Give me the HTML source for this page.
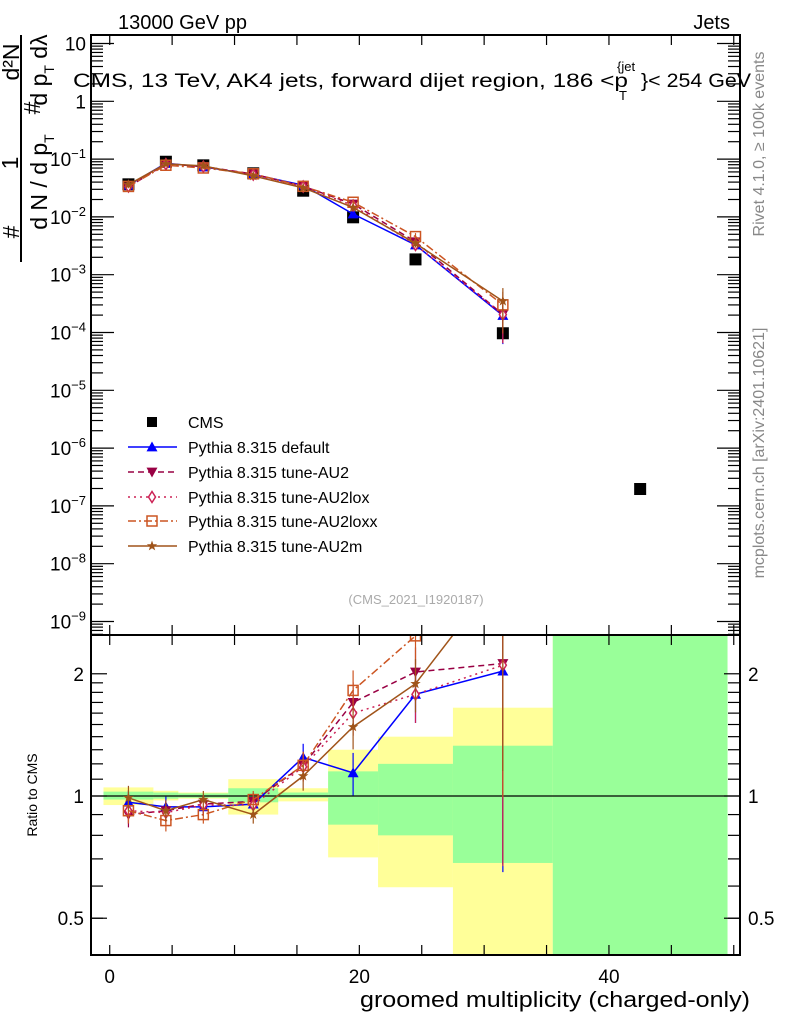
<!DOCTYPE html>
<html><head><meta charset="utf-8"><style>
html,body{margin:0;padding:0;background:#fff}
svg{display:block;font-family:"Liberation Sans",sans-serif}
</style></head><body>
<svg id="chart" width="786" height="1024" viewBox="0 0 786 1024" xmlns="http://www.w3.org/2000/svg">
<defs>
<clipPath id="clipMain"><rect x="91" y="35" width="649" height="600"/></clipPath>
<clipPath id="clipRatio"><rect x="91" y="635" width="649" height="320"/></clipPath>
</defs>
<text x="118" y="29" font-size="20">13000 GeV pp</text>
<text x="730" y="29" font-size="20" text-anchor="end">Jets</text>
<text x="73" y="87" font-size="19" textLength="555" lengthAdjust="spacingAndGlyphs">CMS, 13 TeV, AK4 jets, forward dijet region, 186 &lt;p</text>
<text x="617" y="71" font-size="13">{jet</text>
<text x="619" y="100" font-size="13">T</text>
<text x="641" y="87" font-size="19" textLength="110" lengthAdjust="spacingAndGlyphs">}&lt; 254 GeV</text>
<text transform="translate(764,144) rotate(-90)" font-size="16" fill="#888" text-anchor="middle">Rivet 4.1.0, ≥ 100k events</text>
<text transform="translate(764,453) rotate(-90)" font-size="16" fill="#888" text-anchor="middle">mcplots.cern.ch [arXiv:2401.10621]</text>
<text x="416" y="604" font-size="13" fill="#aaa" text-anchor="middle">(CMS_2021_I1920187)</text>
<g font-size="23">
<line x1="21" y1="35" x2="21" y2="262" stroke="#000" stroke-width="2"/>
<text transform="translate(19,62) rotate(-90)" text-anchor="middle">d²N</text>
<text transform="translate(18,163) rotate(-90)" text-anchor="middle">1</text>
<text transform="translate(19,232) rotate(-90)" text-anchor="middle">#</text>
<text transform="translate(47,70) rotate(-90)" text-anchor="middle">d p<tspan font-size="14" dy="7">T</tspan><tspan dy="-7">  dλ</tspan></text>
<text transform="translate(40,108) rotate(-90)" text-anchor="middle">#</text>
<text transform="translate(47,182) rotate(-90)" text-anchor="middle">d N / d p<tspan font-size="14" dy="7">T</tspan></text>
</g>
<text transform="translate(37,795) rotate(-90)" font-size="14" text-anchor="middle">Ratio to CMS</text>
<text x="750" y="1007" font-size="22" text-anchor="end" textLength="390" lengthAdjust="spacingAndGlyphs">groomed multiplicity (charged-only)</text>
<g id="bands" clip-path="url(#clipRatio)"></g>
<line x1="91" x2="740" y1="796" y2="796" stroke="#000" stroke-width="1.2"/>
<g id="mainMarks" clip-path="url(#clipMain)"></g>
<g id="ratioMarks" clip-path="url(#clipRatio)"></g>
<g id="axes"></g>
<rect x="91" y="35" width="649" height="600" fill="none" stroke="#000" stroke-width="2"/>
<rect x="91" y="635" width="649" height="320" fill="none" stroke="#000" stroke-width="2"/>
<g id="legend"></g>
</svg>
<script>
const binCenters = [1.5,4.5,7.5,11.5,15.5,19.5,24.5,31.5,42.5];
const binLo = [-0.5,3.5,5.5,9.5,13.5,17.5,21.5,27.5,35.5];
const binHi = [3.5,5.5,9.5,13.5,17.5,21.5,27.5,35.5,49.5];
const cmsValues = [0.0366,0.090,0.078,0.0568,0.0284,0.00984,0.00184,9.7e-5,1.96e-7];
const statUp = [1.025,1.02,1.015,1.045,1.02,1.15,1.20,1.33,3.0];
const statDn = [0.98,0.985,0.99,0.965,0.99,0.85,0.80,0.684,0.3];
const totUp = [1.05,1.03,1.02,1.10,1.045,1.30,1.40,1.65,3.0];
const totDn = [0.95,0.975,0.985,0.90,0.97,0.706,0.596,0.3,0.3];
const ratioDefault = [0.965,0.94,0.94,0.955,1.245,1.14,1.78,2.03];
const ratioAU2 = [0.90,0.92,0.955,0.97,1.19,1.70,2.02,2.12];
const ratioAU2lox = [0.92,0.91,0.95,0.95,1.18,1.60,1.78,2.10];
const ratioAU2loxx = [0.92,0.87,0.90,0.98,1.19,1.82,2.48,3.1];
const ratioAU2m = [0.99,0.92,0.98,0.90,1.12,1.48,1.89,3.6];
const relErr = [0.07,0.06,0.05,0.05,0.08,0.12,0.15,0.68];
const xTicks = [0,20,40];
const ratioTicks = [0.5,1,2];
const ratioTickLabels = ["0.5","1","2"];

const NS="http://www.w3.org/2000/svg";
function X(v){return 91+(v+1.5)*649/52;}
function Y(v){return 43.5-(Math.log10(v)-1)*57.8;}
function R(v){return 796-Math.log10(v)*406;}
function mk(tag,attrs,parent){const e=document.createElementNS(NS,tag);for(const k in attrs)e.setAttribute(k,attrs[k]);parent.appendChild(e);return e;}

const bands=document.getElementById('bands');
for(let i=0;i<binCenters.length;i++){
  const y=mk('rect',{x:X(binLo[i]),width:X(binHi[i])-X(binLo[i]),y:R(totUp[i]),height:R(totDn[i])-R(totUp[i]),fill:'#ffff99'},bands);
  
  
}
for(let i=0;i<binCenters.length;i++){
  const g=mk('rect',{x:X(binLo[i]),width:X(binHi[i])-X(binLo[i]),y:R(statUp[i]),height:R(statDn[i])-R(statUp[i]),fill:'#99ff99'},bands);
  
  
}

const ax=document.getElementById('axes');
const st={stroke:'#000','stroke-width':1.2};
for(let v=0;v<=50;v+=5){
  const x=X(v);
  [[35,45],[625,635],[635,645],[945,955]].forEach(p=>mk('line',Object.assign({x1:x,x2:x,y1:p[0],y2:p[1]},st),ax));
}
xTicks.forEach(v=>{const t=mk('text',{x:X(v),y:983,'font-size':19,'text-anchor':'middle'},ax);t.textContent=v;
  
  });
for(let d=-9;d<=1;d++){
  const y=Y(Math.pow(10,d));
  mk('line',Object.assign({x1:91,x2:114,y1:y,y2:y},st),ax);
  mk('line',Object.assign({x1:717,x2:740,y1:y,y2:y},st),ax);
  const t=mk('text',{x:86,y:y+7,'font-size':19,'text-anchor':'end'},ax);
  
  
  if(d===1)t.textContent='10';else if(d===0)t.textContent='1';
  else{t.textContent='10';const s=mk('tspan',{'font-size':13,dy:-8},t);s.textContent='−'+(-d);}
  for(let m=2;m<=9;m++){
    const yy=Y(m*Math.pow(10,d-1));
    if(yy<35||yy>635)continue;
    mk('line',Object.assign({x1:91,x2:103,y1:yy,y2:yy},st),ax);
    mk('line',Object.assign({x1:728,x2:740,y1:yy,y2:yy},st),ax);
  }
}
[0.5,0.6,0.7,0.8,0.9,1.1,1.2,1.3,1.4,1.5,1.6,1.7,1.8,1.9].forEach(v=>{const y=R(v);
  mk('line',Object.assign({x1:91,x2:103,y1:y,y2:y},st),ax);mk('line',Object.assign({x1:728,x2:740,y1:y,y2:y},st),ax);});
ratioTicks.forEach((v,i)=>{const y=R(v);
  mk('line',Object.assign({x1:91,x2:107,y1:y,y2:y},st),ax);mk('line',Object.assign({x1:724,x2:740,y1:y,y2:y},st),ax);
  const t=mk('text',{x:84,y:y+7,'font-size':19,'text-anchor':'end'},ax);t.textContent=ratioTickLabels[i];
  
  
  const t2=mk('text',{x:748,y:y+7,'font-size':19},ax);t2.textContent=ratioTickLabels[i];
  
  });

function marker(type,x,y,col,parent){
  const s=5.5;
  if(type==='up')return mk('polygon',{points:`${x},${y-s} ${x-s},${y+s*0.8} ${x+s},${y+s*0.8}`,fill:col},parent);
  if(type==='down')return mk('polygon',{points:`${x},${y+s} ${x-s},${y-s*0.8} ${x+s},${y-s*0.8}`,fill:col},parent);
  if(type==='diamond')return mk('polygon',{points:`${x},${y-s} ${x-3.5},${y} ${x},${y+s} ${x+3.5},${y}`,fill:'#fff',stroke:col,'stroke-width':1.5},parent);
  if(type==='square')return mk('rect',{x:x-5,y:y-5,width:10,height:10,fill:'none',stroke:col,'stroke-width':1.5},parent);
  if(type==='star'){let p=[];for(let k=0;k<10;k++){const r=k%2?2.2:5.5,a=-Math.PI/2+k*Math.PI/5;p.push((x+r*Math.cos(a)).toFixed(1)+','+(y+r*Math.sin(a)).toFixed(1));}
    return mk('polygon',{points:p.join(' '),fill:col},parent);}
}
const series=[
 {name:'Pythia 8.315 default',r:ratioDefault,col:'#0000ff',dash:'',m:'up',key:'default'},
 {name:'Pythia 8.315 tune-AU2',r:ratioAU2,col:'#990044',dash:'6,4',m:'down',key:'au2'},
 {name:'Pythia 8.315 tune-AU2lox',r:ratioAU2lox,col:'#cc2255',dash:'2,4',m:'diamond',key:'au2lox'},
 {name:'Pythia 8.315 tune-AU2loxx',r:ratioAU2loxx,col:'#cc5522',dash:'8,3,2,3',m:'square',key:'au2loxx'},
 {name:'Pythia 8.315 tune-AU2m',r:ratioAU2m,col:'#a0541a',dash:'',m:'star',key:'au2m'}
];
const mainG=document.getElementById('mainMarks'),ratG=document.getElementById('ratioMarks');
for(let i=0;i<cmsValues.length;i++){
  const r=mk('rect',{x:X(binCenters[i])-6,y:Y(cmsValues[i])-6,width:12,height:12,fill:'#000'},mainG);
  
  
}
series.forEach(s=>{
  const n=s.r.length;
  const pm=[],pr=[];
  for(let i=0;i<n;i++){pm.push(X(binCenters[i])+','+Y(s.r[i]*cmsValues[i]));pr.push(X(binCenters[i])+','+R(s.r[i]));}
  const lm=mk('polyline',{points:pm.join(' '),fill:'none',stroke:s.col,'stroke-width':1.5,'stroke-dasharray':s.dash},mainG);
  
  
  const lr=mk('polyline',{points:pr.join(' '),fill:'none',stroke:s.col,'stroke-width':1.5,'stroke-dasharray':s.dash},ratG);
  
  
  for(let i=0;i<n;i++){
    const x=X(binCenters[i]),v=s.r[i],e=v*relErr[i];
    const lo=Math.max(v-e,0.05),hi=v+e;
    mk('line',{x1:x,x2:x,y1:R(lo),y2:R(hi),stroke:s.col,'stroke-width':1.2},ratG);
    mk('line',{x1:x,x2:x,y1:Y(lo*cmsValues[i]),y2:Y(hi*cmsValues[i]),stroke:s.col,'stroke-width':1.2},mainG);
    const a=marker(s.m,x,Y(v*cmsValues[i]),s.col,mainG);
    
    
    const b=marker(s.m,x,R(v),s.col,ratG);
    
    
  }
});
const lg=document.getElementById('legend');
const rows=[422,447,472,497,521,546];
const c=mk('rect',{x:147,y:rows[0]-5,width:10,height:10,fill:'#000'},lg);


const t0=mk('text',{x:188,y:rows[0]+6,'font-size':16},lg);t0.textContent='CMS';


series.forEach((s,i)=>{const y=rows[i+1];
  mk('line',{x1:128,x2:177,y1:y,y2:y,stroke:s.col,'stroke-width':1.5,'stroke-dasharray':s.dash},lg);
  marker(s.m,152,y,s.col,lg);
  const t=mk('text',{x:188,y:y+6,'font-size':16},lg);t.textContent=s.name;
  
  
});
</script>
</body></html>
